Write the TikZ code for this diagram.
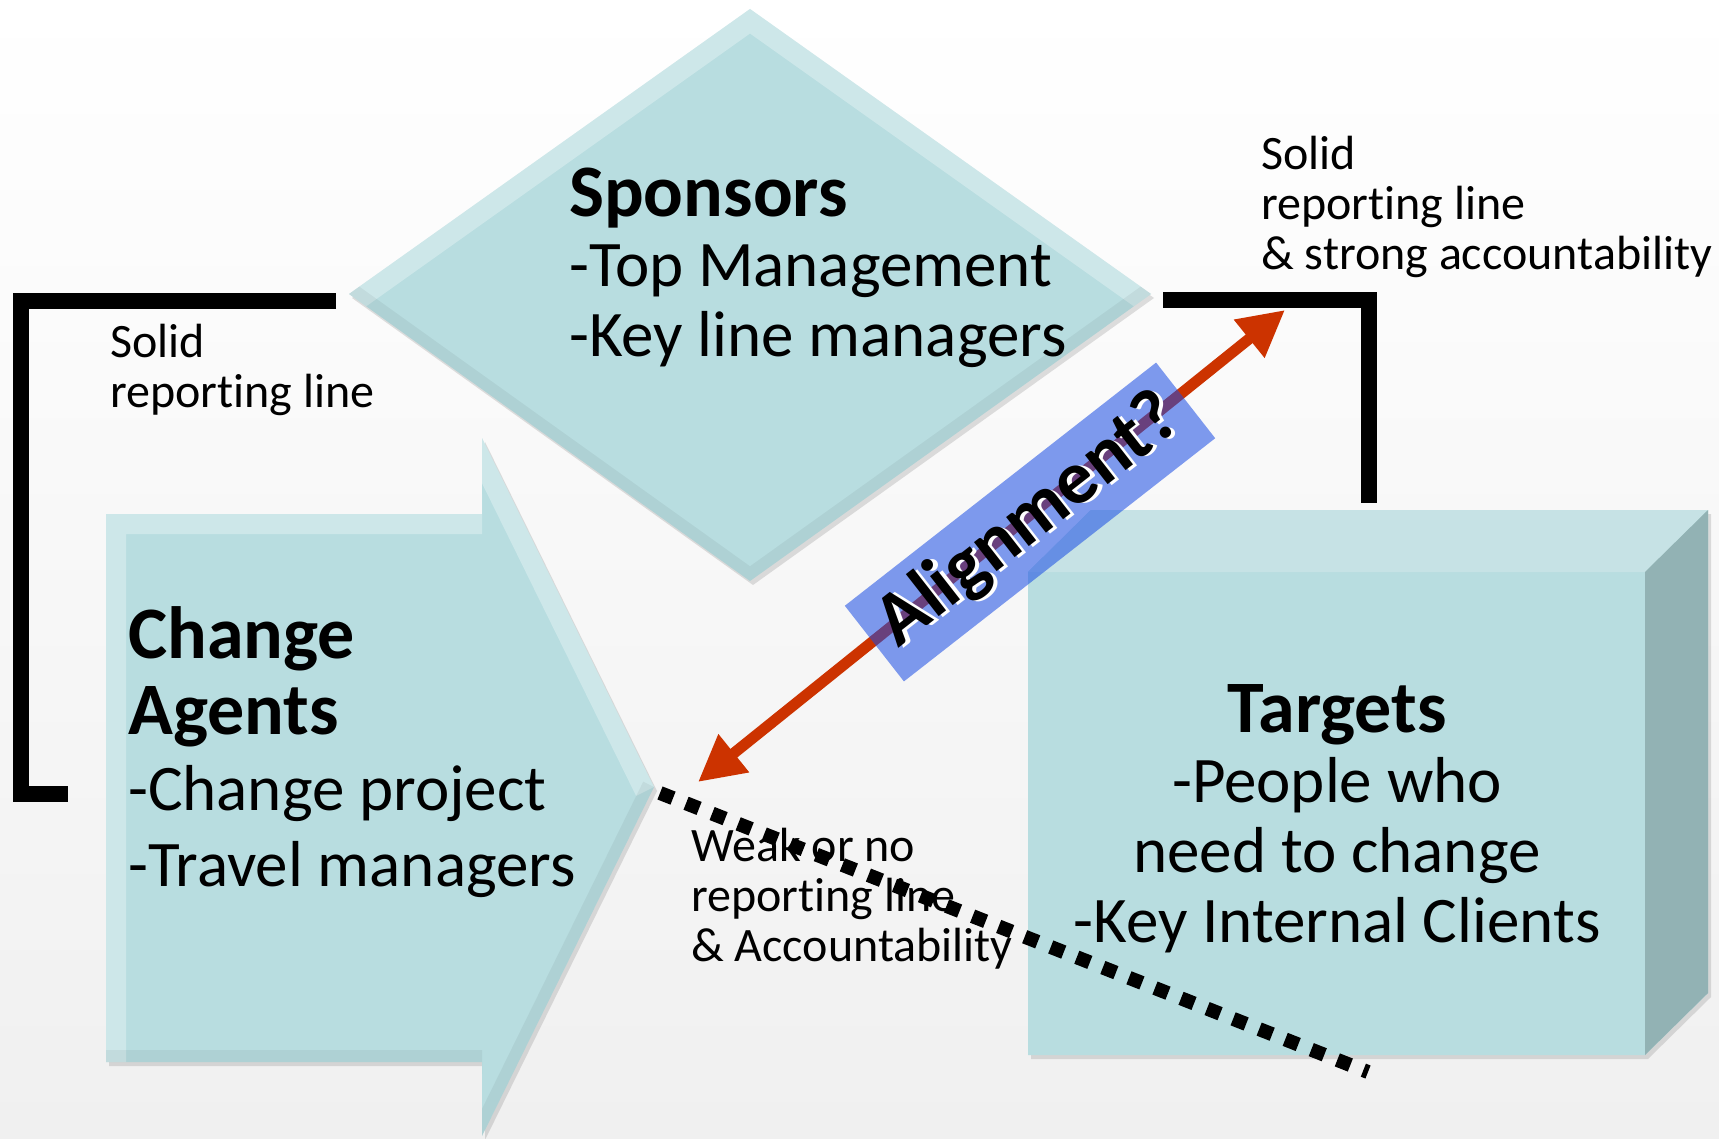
\documentclass[tikz,border=0pt]{standalone}
\usepackage{fontspec}
\setmainfont{Carlito}[Ligatures=NoCommon]
\usetikzlibrary{arrows.meta,shadows}

\definecolor{shapecyan}{RGB}{184,221,224}
\definecolor{topcyan}{RGB}{198,226,229}
\definecolor{sidecyan}{RGB}{146,178,180}
\definecolor{alignblue}{RGB}{24,75,228}
\definecolor{arrowred}{RGB}{204,51,0}
\definecolor{bgbottom}{RGB}{240,240,240}

\newcommand{\titlefont}{\fontsize{74}{76}\selectfont\bfseries}
\newcommand{\shadowed}[1]{\makebox[0pt][l]{\hspace{3pt}\raisebox{-3pt}{\color{white}#1}}#1}

\begin{document}
\begin{tikzpicture}[x=1pt, y=-1pt,
  every node/.style = {inner sep=0pt, text=black},
  shapebox/.style = {fill=shapecyan, drop shadow={opacity=0.25, shadow xshift=3pt, shadow yshift=-4pt}},
  lightedge/.style = {white, opacity=0.3, line width=40pt},
  darkedge/.style = {black, opacity=0.05, line width=24pt},
  bracket/.style = {line width=16pt, line join=miter},
  weakline/.style = {line width=14pt, dash pattern=on 14pt off 14pt},
  bodytext/.style = {align=left, font=\fontsize{65}{70}\selectfont},
  notetext/.style = {anchor=north west, align=left, font=\fontsize{48}{50}\selectfont}]

  \useasboundingbox (0,0) rectangle (1719,1139);
  \shade[top color=white, bottom color=bgbottom] (0,0) rectangle (1719,1139);

  \coordinate (sp-n) at (750,9);
  \coordinate (sp-e) at (1151,294);
  \coordinate (sp-s) at (750,581);
  \coordinate (sp-w) at (349,294);
  \fill[shapebox] (sp-n) -- (sp-e) -- (sp-s) -- (sp-w) -- cycle;
  \begin{scope}
    \clip (sp-n) -- (sp-e) -- (sp-s) -- (sp-w) -- cycle;
    \draw[lightedge] (sp-w) -- (sp-n) -- (sp-e);
    \draw[darkedge] (sp-w) -- (sp-s) -- (sp-e);
  \end{scope}
  \node[bodytext, anchor=north west] (spons) at (569,168)
    {{\titlefont Sponsors}\\-Top Management\\-Key line managers};

  \coordinate (ca-nw) at (106,514);
  \coordinate (ca-ne) at (482,514);
  \coordinate (ca-hn) at (482,438);
  \coordinate (ca-tip) at (654,787);
  \coordinate (ca-hs) at (482,1136);
  \coordinate (ca-se) at (482,1062);
  \coordinate (ca-sw) at (106,1062);
  \fill[shapebox] (ca-nw) -- (ca-ne) -- (ca-hn) -- (ca-tip) -- (ca-hs) -- (ca-se) -- (ca-sw) -- cycle;
  \begin{scope}
    \clip (ca-nw) -- (ca-ne) -- (ca-hn) -- (ca-tip) -- (ca-hs) -- (ca-se) -- (ca-sw) -- cycle;
    \draw[lightedge] (ca-sw) -- (ca-nw) -- (ca-ne) (ca-hn) -- (ca-tip);
    \draw[darkedge] (ca-tip) -- (ca-hs) (ca-se) -- (ca-sw);
  \end{scope}
  \node[bodytext, anchor=north west, font=\fontsize{65}{76}\selectfont] (agents) at (128,606)
    {{\titlefont Change}\\{\titlefont Agents}\\-Change project\\-Travel managers};

  \coordinate (tg-fl) at (1028,572);
  \coordinate (tg-bl) at (1091,510);
  \coordinate (tg-br) at (1708,510);
  \coordinate (tg-fr) at (1645,572);
  \coordinate (tg-dr) at (1708,993);
  \coordinate (tg-sr) at (1645,1055);
  \coordinate (tg-sl) at (1028,1055);
  \fill[shapebox] (tg-fl) -- (tg-bl) -- (tg-br) -- (tg-dr) -- (tg-sr) -- (tg-sl) -- cycle;
  \fill[topcyan] (tg-fl) -- (tg-bl) -- (tg-br) -- (tg-fr) -- cycle;
  \fill[sidecyan] (tg-fr) -- (tg-br) -- (tg-dr) -- (tg-sr) -- cycle;
  \node[bodytext, align=center, anchor=north] (targets) at (1337,684)
    {{\titlefont Targets}\\-People who\\need to change\\-Key Internal Clients};

  \coordinate (lb-a) at (336,301);
  \coordinate (lb-b) at (21,794);
  \coordinate (lb-c) at (68,794);
  \draw[bracket] (lb-a) -| (lb-b) -- (lb-c);
  \coordinate (rb-a) at (1163,300);
  \coordinate (rb-b) at (1369,503);
  \draw[bracket] (rb-a) -| (rb-b);

  \node[notetext] (solid-l) at (110,324) {Solid\\reporting line};
  \node[notetext] (solid-r) at (1261,136) {Solid\\reporting line\\\& strong accountability};
  \node[notetext] (weak) at (691,828) {Weak or no\\reporting line\\\& Accountability};

  \coordinate (wk-a) at (660,793);
  \coordinate (wk-b) at (1368,1072);
  \draw[weakline] (wk-a) -- (wk-b);

  \coordinate (al-lo) at (698,782);
  \coordinate (al-hi) at (1285,310);
  \draw[arrowred, line width=11pt, {Triangle[length=46pt,width=46pt]}-{Triangle[length=46pt,width=46pt]}] (al-lo) -- (al-hi);

  \node[rotate=38, minimum width=395pt, minimum height=96pt, fill=alignblue, fill opacity=0.55, text opacity=1,
    font=\fontsize{76}{80}\selectfont\bfseries] (align) at (1030,522) {\shadowed{Alignment?}};
\end{tikzpicture}
\end{document}
